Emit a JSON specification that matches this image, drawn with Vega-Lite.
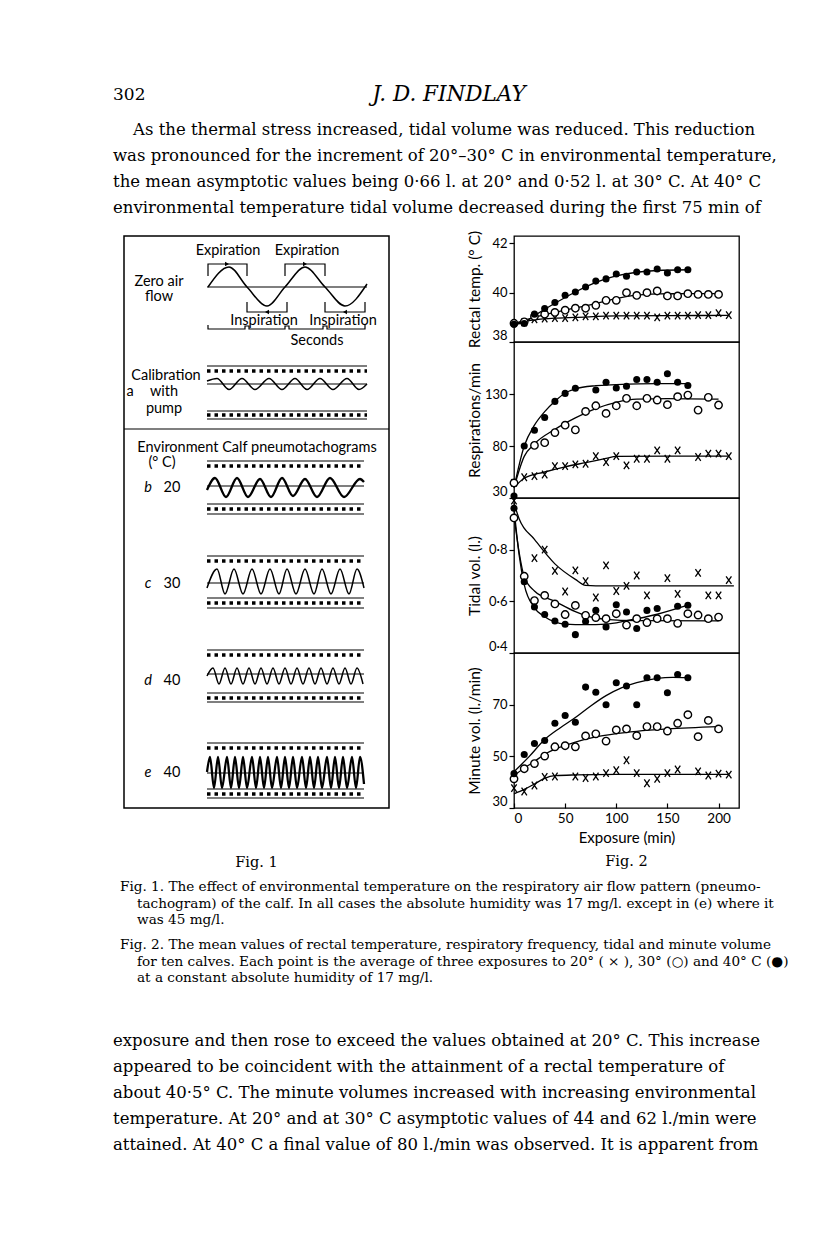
{
  "$schema": "https://vega.github.io/schema/vega-lite/v6.json",
  "background": "white",
  "padding": {"left": 113, "top": 80, "right": 0, "bottom": 0},
  "spacing": 0,
  "config": {
    "view": {"stroke": null},
    "axis": {
      "domain": false, "grid": false,
      "tickColor": "black", "tickWidth": 1.2, "tickSize": 5,
      "labelColor": "black", "labelFont": "Lato", "labelFontSize": 13, "labelPadding": 2,
      "titleColor": "black", "titleFont": "Lato", "titleFontSize": 15.5, "titleFontWeight": "normal"
    }
  },
  "datasets": {
    "para1": [
      {"line": 1, "text": "As the thermal stress increased, tidal volume was reduced. This reduction"},
      {"line": 2, "text": "was pronounced for the increment of 20°–30° C in environmental temperature,"},
      {"line": 3, "text": "the mean asymptotic values being 0·66 l. at 20° and 0·52 l. at 30° C.  At 40° C"},
      {"line": 4, "text": "environmental temperature tidal volume decreased during the first 75 min of"}
    ],
    "para2": [
      {"line": 1, "text": "exposure and then rose to exceed the values obtained at 20° C. This increase"},
      {"line": 2, "text": "appeared to be coincident with the attainment of a rectal temperature of"},
      {"line": 3, "text": "about 40·5° C. The minute volumes increased with increasing environmental"},
      {"line": 4, "text": "temperature.  At 20° and at 30° C asymptotic values of 44 and 62 l./min were"},
      {"line": 5, "text": "attained.  At 40° C a final value of 80 l./min was observed.  It is apparent from"}
    ],
    "cap1": [
      {"line": 1, "text": "Fig. 1. The effect of environmental temperature on the respiratory air flow pattern (pneumo-"},
      {"line": 2, "text": "tachogram) of the calf. In all cases the absolute humidity was 17 mg/l. except in (e) where it"},
      {"line": 3, "text": "was 45 mg/l."}
    ],
    "cap2": [
      {"line": 1, "text": "Fig. 2. The mean values of rectal temperature, respiratory frequency, tidal and minute volume"},
      {"line": 2, "text": "for ten calves. Each point is the average of three exposures to 20° ( × ), 30° (○) and 40° C (●)"},
      {"line": 3, "text": "at a constant absolute humidity of 17 mg/l."}
    ],
    "f1rule": [
      {"x": 0, "x2": 265, "y": 193},
      {"x": 83, "x2": 243, "y": 51},
      {"x": 83, "x2": 243, "y": 130}, {"x": 83, "x2": 243, "y": 148},
      {"x": 83, "x2": 243, "y": 175}, {"x": 83, "x2": 243, "y": 183},
      {"x": 83, "x2": 240, "y": 225}, {"x": 83, "x2": 240, "y": 250},
      {"x": 83, "x2": 240, "y": 268}, {"x": 83, "x2": 240, "y": 278},
      {"x": 83, "x2": 240, "y": 320}, {"x": 83, "x2": 240, "y": 347},
      {"x": 83, "x2": 240, "y": 362}, {"x": 83, "x2": 240, "y": 372},
      {"x": 83, "x2": 240, "y": 414}, {"x": 83, "x2": 240, "y": 438},
      {"x": 83, "x2": 240, "y": 457}, {"x": 83, "x2": 240, "y": 466},
      {"x": 83, "x2": 240, "y": 507}, {"x": 83, "x2": 240, "y": 537},
      {"x": 83, "x2": 240, "y": 553}, {"x": 83, "x2": 240, "y": 562}
    ],
    "f1dot": [
      {"x": 83, "x2": 243, "y": 135}, {"x": 83, "x2": 243, "y": 179},
      {"x": 83, "x2": 240, "y": 230}, {"x": 83, "x2": 240, "y": 273},
      {"x": 83, "x2": 240, "y": 325}, {"x": 83, "x2": 240, "y": 367},
      {"x": 83, "x2": 240, "y": 419}, {"x": 83, "x2": 240, "y": 462},
      {"x": 83, "x2": 240, "y": 512}, {"x": 83, "x2": 240, "y": 558}
    ],
    "f1path": [
      {"g": "exp1", "i": 1, "x": 84, "y": 40}, {"g": "exp1", "i": 2, "x": 84, "y": 28}, {"g": "exp1", "i": 3, "x": 123, "y": 28}, {"g": "exp1", "i": 4, "x": 123, "y": 40},
      {"g": "exp2", "i": 1, "x": 161, "y": 40}, {"g": "exp2", "i": 2, "x": 161, "y": 28}, {"g": "exp2", "i": 3, "x": 201, "y": 28}, {"g": "exp2", "i": 4, "x": 201, "y": 40},
      {"g": "ins1", "i": 1, "x": 123, "y": 66}, {"g": "ins1", "i": 2, "x": 123, "y": 76}, {"g": "ins1", "i": 3, "x": 163, "y": 76}, {"g": "ins1", "i": 4, "x": 163, "y": 66},
      {"g": "ins2", "i": 1, "x": 201, "y": 66}, {"g": "ins2", "i": 2, "x": 201, "y": 76}, {"g": "ins2", "i": 3, "x": 241, "y": 76}, {"g": "ins2", "i": 4, "x": 241, "y": 66},
      {"g": "sec", "i": 1, "x": 84, "y": 89}, {"g": "sec", "i": 2, "x": 84, "y": 93}, {"g": "sec", "i": 3, "x": 121, "y": 93}, {"g": "sec", "i": 4, "x": 121, "y": 90},
      {"g": "sec", "i": 5, "x": 125, "y": 90}, {"g": "sec", "i": 6, "x": 125, "y": 93}, {"g": "sec", "i": 7, "x": 161, "y": 93}, {"g": "sec", "i": 8, "x": 161, "y": 90},
      {"g": "sec", "i": 9, "x": 165, "y": 90}, {"g": "sec", "i": 10, "x": 165, "y": 93}, {"g": "sec", "i": 11, "x": 199, "y": 93}, {"g": "sec", "i": 12, "x": 199, "y": 90},
      {"g": "sec", "i": 13, "x": 203, "y": 90}, {"g": "sec", "i": 14, "x": 203, "y": 93}, {"g": "sec", "i": 15, "x": 241, "y": 93}, {"g": "sec", "i": 16, "x": 241, "y": 89}
    ],
    "f1arrow": [
      {"x": 103, "y": 28, "dir": "r"}, {"x": 181, "y": 28, "dir": "r"},
      {"x": 143, "y": 76, "dir": "l"}, {"x": 221, "y": 76, "dir": "l"}
    ],
    "f1wave": [
      {"g": "main", "x": 84, "y": 51}, {"g": "main", "x": 105, "y": 31}, {"g": "main", "x": 123, "y": 51}, {"g": "main", "x": 143, "y": 70}, {"g": "main", "x": 161, "y": 51}, {"g": "main", "x": 181, "y": 31}, {"g": "main", "x": 201, "y": 51}, {"g": "main", "x": 221, "y": 70}, {"g": "main", "x": 243, "y": 48},
      {"g": "cal", "x": 83, "y": 145}, {"g": "cal", "x": 93, "y": 142.5}, {"g": "cal", "x": 105, "y": 153.5}, {"g": "cal", "x": 118, "y": 142.5}, {"g": "cal", "x": 131, "y": 153.5}, {"g": "cal", "x": 145, "y": 142.5}, {"g": "cal", "x": 158, "y": 153.5}, {"g": "cal", "x": 171, "y": 142.5}, {"g": "cal", "x": 183, "y": 153.5}, {"g": "cal", "x": 196, "y": 142.5}, {"g": "cal", "x": 209, "y": 153.5}, {"g": "cal", "x": 223, "y": 142.5}, {"g": "cal", "x": 235, "y": 153.5}, {"g": "cal", "x": 243, "y": 148},
      {"g": "b", "x": 83, "y": 254}, {"g": "b", "x": 91, "y": 242}, {"g": "b", "x": 102, "y": 261}, {"g": "b", "x": 113, "y": 242}, {"g": "b", "x": 124, "y": 261}, {"g": "b", "x": 136, "y": 243}, {"g": "b", "x": 147, "y": 261}, {"g": "b", "x": 158, "y": 242}, {"g": "b", "x": 169, "y": 260}, {"g": "b", "x": 181, "y": 243}, {"g": "b", "x": 193, "y": 261}, {"g": "b", "x": 206, "y": 242}, {"g": "b", "x": 220, "y": 261}, {"g": "b", "x": 236, "y": 243}, {"g": "b", "x": 240, "y": 246},
      {"g": "c", "x": 83, "y": 352}, {"g": "c", "x": 93, "y": 333}, {"g": "c", "x": 101, "y": 358}, {"g": "c", "x": 110, "y": 333}, {"g": "c", "x": 119, "y": 358}, {"g": "c", "x": 128, "y": 333}, {"g": "c", "x": 137, "y": 358}, {"g": "c", "x": 146, "y": 333}, {"g": "c", "x": 155, "y": 358}, {"g": "c", "x": 163, "y": 333}, {"g": "c", "x": 172, "y": 358}, {"g": "c", "x": 181, "y": 333}, {"g": "c", "x": 190, "y": 358}, {"g": "c", "x": 198, "y": 333}, {"g": "c", "x": 207, "y": 358}, {"g": "c", "x": 216, "y": 333}, {"g": "c", "x": 225, "y": 358}, {"g": "c", "x": 233, "y": 333}, {"g": "c", "x": 240, "y": 352},
      {"g": "d", "x": 83, "y": 440}, {"g": "d", "x": 89, "y": 432}, {"g": "d", "x": 95, "y": 448}, {"g": "d", "x": 101, "y": 432}, {"g": "d", "x": 107, "y": 448}, {"g": "d", "x": 113, "y": 432}, {"g": "d", "x": 119, "y": 448}, {"g": "d", "x": 125, "y": 432}, {"g": "d", "x": 131, "y": 448}, {"g": "d", "x": 137, "y": 432}, {"g": "d", "x": 143, "y": 448}, {"g": "d", "x": 149, "y": 432}, {"g": "d", "x": 155, "y": 448}, {"g": "d", "x": 161, "y": 432}, {"g": "d", "x": 167, "y": 448}, {"g": "d", "x": 173, "y": 432}, {"g": "d", "x": 179, "y": 448}, {"g": "d", "x": 185, "y": 432}, {"g": "d", "x": 191, "y": 448}, {"g": "d", "x": 197, "y": 432}, {"g": "d", "x": 203, "y": 448}, {"g": "d", "x": 209, "y": 432}, {"g": "d", "x": 215, "y": 448}, {"g": "d", "x": 221, "y": 432}, {"g": "d", "x": 227, "y": 448}, {"g": "d", "x": 233, "y": 432}, {"g": "d", "x": 239, "y": 448},
      {"g": "e", "x": 83, "y": 536}, {"g": "e", "x": 86, "y": 521}, {"g": "e", "x": 90, "y": 552}, {"g": "e", "x": 94, "y": 521}, {"g": "e", "x": 98, "y": 552}, {"g": "e", "x": 103, "y": 521}, {"g": "e", "x": 107, "y": 552}, {"g": "e", "x": 111, "y": 521}, {"g": "e", "x": 115, "y": 552}, {"g": "e", "x": 119, "y": 521}, {"g": "e", "x": 123, "y": 552}, {"g": "e", "x": 128, "y": 521}, {"g": "e", "x": 132, "y": 552}, {"g": "e", "x": 136, "y": 521}, {"g": "e", "x": 140, "y": 552}, {"g": "e", "x": 144, "y": 521}, {"g": "e", "x": 148, "y": 552}, {"g": "e", "x": 153, "y": 521}, {"g": "e", "x": 157, "y": 552}, {"g": "e", "x": 161, "y": 521}, {"g": "e", "x": 165, "y": 552}, {"g": "e", "x": 169, "y": 521}, {"g": "e", "x": 173, "y": 552}, {"g": "e", "x": 178, "y": 521}, {"g": "e", "x": 182, "y": 552}, {"g": "e", "x": 186, "y": 521}, {"g": "e", "x": 190, "y": 552}, {"g": "e", "x": 194, "y": 521}, {"g": "e", "x": 198, "y": 552}, {"g": "e", "x": 203, "y": 521}, {"g": "e", "x": 207, "y": 552}, {"g": "e", "x": 211, "y": 521}, {"g": "e", "x": 215, "y": 552}, {"g": "e", "x": 219, "y": 521}, {"g": "e", "x": 223, "y": 552}, {"g": "e", "x": 228, "y": 521}, {"g": "e", "x": 232, "y": 552}, {"g": "e", "x": 236, "y": 521}, {"g": "e", "x": 240, "y": 548}
    ],
    "f1text": [
      {"x": 104, "y": 15, "text": "Expiration"}, {"x": 183, "y": 15, "text": "Expiration"},
      {"x": 35, "y": 46, "text": "Zero air"}, {"x": 35, "y": 61, "text": "flow"},
      {"x": 140, "y": 85, "text": "Inspiration"}, {"x": 219, "y": 85, "text": "Inspiration"},
      {"x": 193, "y": 105, "text": "Seconds"},
      {"x": 42, "y": 140, "text": "Calibration"},
      {"x": 6, "y": 156, "text": "a"}, {"x": 40, "y": 156, "text": "with"},
      {"x": 40, "y": 173, "text": "pump"},
      {"x": 133, "y": 212, "text": "Environment Calf pneumotachograms"},
      {"x": 38, "y": 227, "text": "(° C)"},
      {"x": 48, "y": 252, "text": "20"}, {"x": 48, "y": 348, "text": "30"},
      {"x": 48, "y": 445, "text": "40"}, {"x": 48, "y": 537, "text": "40"}
    ],
    "f1ital": [
      {"x": 24, "y": 252, "text": "b"}, {"x": 24, "y": 348, "text": "c"},
      {"x": 24, "y": 445, "text": "d"}, {"x": 24, "y": 537, "text": "e"}
    ],
    "pts": [
      {"p": "rt", "s": "40", "t": 0, "v": 38.72}, {"p": "rt", "s": "40", "t": 10, "v": 38.75}, {"p": "rt", "s": "40", "t": 20, "v": 39.13}, {"p": "rt", "s": "40", "t": 30, "v": 39.36}, {"p": "rt", "s": "40", "t": 40, "v": 39.6}, {"p": "rt", "s": "40", "t": 50, "v": 39.9}, {"p": "rt", "s": "40", "t": 60, "v": 40.03}, {"p": "rt", "s": "40", "t": 70, "v": 40.23}, {"p": "rt", "s": "40", "t": 80, "v": 40.47}, {"p": "rt", "s": "40", "t": 90, "v": 40.56}, {"p": "rt", "s": "40", "t": 100, "v": 40.76}, {"p": "rt", "s": "40", "t": 110, "v": 40.67}, {"p": "rt", "s": "40", "t": 120, "v": 40.84}, {"p": "rt", "s": "40", "t": 130, "v": 40.84}, {"p": "rt", "s": "40", "t": 140, "v": 40.96}, {"p": "rt", "s": "40", "t": 150, "v": 40.8}, {"p": "rt", "s": "40", "t": 160, "v": 40.93}, {"p": "rt", "s": "40", "t": 170, "v": 40.93},
      {"p": "rt", "s": "30", "t": 0, "v": 38.76}, {"p": "rt", "s": "30", "t": 10, "v": 38.82}, {"p": "rt", "s": "30", "t": 20, "v": 39.04}, {"p": "rt", "s": "30", "t": 30, "v": 39.13}, {"p": "rt", "s": "30", "t": 40, "v": 39.2}, {"p": "rt", "s": "30", "t": 50, "v": 39.29}, {"p": "rt", "s": "30", "t": 60, "v": 39.37}, {"p": "rt", "s": "30", "t": 70, "v": 39.37}, {"p": "rt", "s": "30", "t": 80, "v": 39.49}, {"p": "rt", "s": "30", "t": 90, "v": 39.69}, {"p": "rt", "s": "30", "t": 100, "v": 39.69}, {"p": "rt", "s": "30", "t": 110, "v": 40.0}, {"p": "rt", "s": "30", "t": 120, "v": 39.89}, {"p": "rt", "s": "30", "t": 130, "v": 40.0}, {"p": "rt", "s": "30", "t": 140, "v": 40.07}, {"p": "rt", "s": "30", "t": 150, "v": 39.87}, {"p": "rt", "s": "30", "t": 160, "v": 39.87}, {"p": "rt", "s": "30", "t": 170, "v": 39.96}, {"p": "rt", "s": "30", "t": 180, "v": 39.93}, {"p": "rt", "s": "30", "t": 190, "v": 39.93}, {"p": "rt", "s": "30", "t": 200, "v": 39.93},
      {"p": "rt", "s": "20", "t": 10, "v": 38.8}, {"p": "rt", "s": "20", "t": 20, "v": 38.92}, {"p": "rt", "s": "20", "t": 30, "v": 38.95}, {"p": "rt", "s": "20", "t": 40, "v": 38.97}, {"p": "rt", "s": "20", "t": 50, "v": 38.97}, {"p": "rt", "s": "20", "t": 60, "v": 39.0}, {"p": "rt", "s": "20", "t": 70, "v": 39.04}, {"p": "rt", "s": "20", "t": 80, "v": 39.04}, {"p": "rt", "s": "20", "t": 90, "v": 39.07}, {"p": "rt", "s": "20", "t": 100, "v": 39.07}, {"p": "rt", "s": "20", "t": 110, "v": 39.07}, {"p": "rt", "s": "20", "t": 120, "v": 39.07}, {"p": "rt", "s": "20", "t": 130, "v": 39.07}, {"p": "rt", "s": "20", "t": 140, "v": 39.0}, {"p": "rt", "s": "20", "t": 150, "v": 39.07}, {"p": "rt", "s": "20", "t": 160, "v": 39.07}, {"p": "rt", "s": "20", "t": 170, "v": 39.07}, {"p": "rt", "s": "20", "t": 180, "v": 39.09}, {"p": "rt", "s": "20", "t": 190, "v": 39.09}, {"p": "rt", "s": "20", "t": 200, "v": 39.17}, {"p": "rt", "s": "20", "t": 210, "v": 39.09},

      {"p": "rr", "s": "40", "t": 0, "v": 32}, {"p": "rr", "s": "40", "t": 10, "v": 80}, {"p": "rr", "s": "40", "t": 20, "v": 95.2}, {"p": "rr", "s": "40", "t": 30, "v": 107.4}, {"p": "rr", "s": "40", "t": 40, "v": 122.9}, {"p": "rr", "s": "40", "t": 50, "v": 130.6}, {"p": "rr", "s": "40", "t": 60, "v": 135.5}, {"p": "rr", "s": "40", "t": 80, "v": 133.9}, {"p": "rr", "s": "40", "t": 90, "v": 141.3}, {"p": "rr", "s": "40", "t": 100, "v": 135.8}, {"p": "rr", "s": "40", "t": 110, "v": 137.4}, {"p": "rr", "s": "40", "t": 120, "v": 143.9}, {"p": "rr", "s": "40", "t": 130, "v": 143.9}, {"p": "rr", "s": "40", "t": 140, "v": 141.3}, {"p": "rr", "s": "40", "t": 150, "v": 149.4}, {"p": "rr", "s": "40", "t": 160, "v": 141.3}, {"p": "rr", "s": "40", "t": 170, "v": 138.1},
      {"p": "rr", "s": "30", "t": 0, "v": 44.5}, {"p": "rr", "s": "30", "t": 20, "v": 80.6}, {"p": "rr", "s": "30", "t": 30, "v": 83.2}, {"p": "rr", "s": "30", "t": 40, "v": 92.9}, {"p": "rr", "s": "30", "t": 50, "v": 100}, {"p": "rr", "s": "30", "t": 60, "v": 95.5}, {"p": "rr", "s": "30", "t": 70, "v": 113.2}, {"p": "rr", "s": "30", "t": 80, "v": 118.7}, {"p": "rr", "s": "30", "t": 90, "v": 111.3}, {"p": "rr", "s": "30", "t": 100, "v": 118.7}, {"p": "rr", "s": "30", "t": 110, "v": 125.8}, {"p": "rr", "s": "30", "t": 120, "v": 118.7}, {"p": "rr", "s": "30", "t": 130, "v": 125.8}, {"p": "rr", "s": "30", "t": 140, "v": 124.2}, {"p": "rr", "s": "30", "t": 150, "v": 119.7}, {"p": "rr", "s": "30", "t": 160, "v": 127.4}, {"p": "rr", "s": "30", "t": 170, "v": 129}, {"p": "rr", "s": "30", "t": 180, "v": 114.5}, {"p": "rr", "s": "30", "t": 190, "v": 126.8}, {"p": "rr", "s": "30", "t": 200, "v": 119.4},
      {"p": "rr", "s": "20", "t": 0, "v": 44.5}, {"p": "rr", "s": "20", "t": 10, "v": 50}, {"p": "rr", "s": "20", "t": 20, "v": 51}, {"p": "rr", "s": "20", "t": 30, "v": 52.6}, {"p": "rr", "s": "20", "t": 40, "v": 60.6}, {"p": "rr", "s": "20", "t": 50, "v": 60.6}, {"p": "rr", "s": "20", "t": 60, "v": 62.3}, {"p": "rr", "s": "20", "t": 70, "v": 62.9}, {"p": "rr", "s": "20", "t": 80, "v": 70.3}, {"p": "rr", "s": "20", "t": 90, "v": 64.5}, {"p": "rr", "s": "20", "t": 100, "v": 70.3}, {"p": "rr", "s": "20", "t": 110, "v": 61.3}, {"p": "rr", "s": "20", "t": 120, "v": 67.7}, {"p": "rr", "s": "20", "t": 130, "v": 67.7}, {"p": "rr", "s": "20", "t": 140, "v": 75.8}, {"p": "rr", "s": "20", "t": 150, "v": 67.7}, {"p": "rr", "s": "20", "t": 160, "v": 75.8}, {"p": "rr", "s": "20", "t": 180, "v": 69.4}, {"p": "rr", "s": "20", "t": 190, "v": 72.6}, {"p": "rr", "s": "20", "t": 200, "v": 72.6}, {"p": "rr", "s": "20", "t": 210, "v": 70.3},

      {"p": "tv", "s": "20", "t": 0, "v": 0.99}, {"p": "tv", "s": "20", "t": 20, "v": 0.767}, {"p": "tv", "s": "20", "t": 30, "v": 0.8}, {"p": "tv", "s": "20", "t": 40, "v": 0.718}, {"p": "tv", "s": "20", "t": 50, "v": 0.638}, {"p": "tv", "s": "20", "t": 60, "v": 0.72}, {"p": "tv", "s": "20", "t": 70, "v": 0.678}, {"p": "tv", "s": "20", "t": 80, "v": 0.615}, {"p": "tv", "s": "20", "t": 90, "v": 0.739}, {"p": "tv", "s": "20", "t": 100, "v": 0.64}, {"p": "tv", "s": "20", "t": 110, "v": 0.66}, {"p": "tv", "s": "20", "t": 120, "v": 0.70}, {"p": "tv", "s": "20", "t": 130, "v": 0.623}, {"p": "tv", "s": "20", "t": 150, "v": 0.69}, {"p": "tv", "s": "20", "t": 160, "v": 0.629}, {"p": "tv", "s": "20", "t": 180, "v": 0.71}, {"p": "tv", "s": "20", "t": 190, "v": 0.623}, {"p": "tv", "s": "20", "t": 200, "v": 0.623}, {"p": "tv", "s": "20", "t": 210, "v": 0.682},
      {"p": "tv", "s": "30", "t": 0, "v": 0.923}, {"p": "tv", "s": "30", "t": 10, "v": 0.697}, {"p": "tv", "s": "30", "t": 20, "v": 0.603}, {"p": "tv", "s": "30", "t": 30, "v": 0.623}, {"p": "tv", "s": "30", "t": 40, "v": 0.59}, {"p": "tv", "s": "30", "t": 50, "v": 0.549}, {"p": "tv", "s": "30", "t": 60, "v": 0.584}, {"p": "tv", "s": "30", "t": 70, "v": 0.546}, {"p": "tv", "s": "30", "t": 80, "v": 0.537}, {"p": "tv", "s": "30", "t": 90, "v": 0.533}, {"p": "tv", "s": "30", "t": 100, "v": 0.552}, {"p": "tv", "s": "30", "t": 110, "v": 0.508}, {"p": "tv", "s": "30", "t": 120, "v": 0.533}, {"p": "tv", "s": "30", "t": 130, "v": 0.518}, {"p": "tv", "s": "30", "t": 140, "v": 0.533}, {"p": "tv", "s": "30", "t": 150, "v": 0.533}, {"p": "tv", "s": "30", "t": 160, "v": 0.515}, {"p": "tv", "s": "30", "t": 170, "v": 0.552}, {"p": "tv", "s": "30", "t": 180, "v": 0.547}, {"p": "tv", "s": "30", "t": 190, "v": 0.533}, {"p": "tv", "s": "30", "t": 200, "v": 0.539},
      {"p": "tv", "s": "40", "t": 0, "v": 0.96}, {"p": "tv", "s": "40", "t": 10, "v": 0.676}, {"p": "tv", "s": "40", "t": 20, "v": 0.578}, {"p": "tv", "s": "40", "t": 30, "v": 0.549}, {"p": "tv", "s": "40", "t": 40, "v": 0.524}, {"p": "tv", "s": "40", "t": 50, "v": 0.511}, {"p": "tv", "s": "40", "t": 60, "v": 0.471}, {"p": "tv", "s": "40", "t": 70, "v": 0.522}, {"p": "tv", "s": "40", "t": 80, "v": 0.565}, {"p": "tv", "s": "40", "t": 90, "v": 0.501}, {"p": "tv", "s": "40", "t": 100, "v": 0.587}, {"p": "tv", "s": "40", "t": 110, "v": 0.559}, {"p": "tv", "s": "40", "t": 120, "v": 0.495}, {"p": "tv", "s": "40", "t": 130, "v": 0.565}, {"p": "tv", "s": "40", "t": 140, "v": 0.572}, {"p": "tv", "s": "40", "t": 160, "v": 0.581}, {"p": "tv", "s": "40", "t": 170, "v": 0.585},

      {"p": "mv", "s": "40", "t": 0, "v": 43.3}, {"p": "mv", "s": "40", "t": 10, "v": 50.7}, {"p": "mv", "s": "40", "t": 20, "v": 55}, {"p": "mv", "s": "40", "t": 30, "v": 56.1}, {"p": "mv", "s": "40", "t": 40, "v": 62.8}, {"p": "mv", "s": "40", "t": 50, "v": 65.8}, {"p": "mv", "s": "40", "t": 60, "v": 63.2}, {"p": "mv", "s": "40", "t": 70, "v": 76.8}, {"p": "mv", "s": "40", "t": 80, "v": 74.8}, {"p": "mv", "s": "40", "t": 90, "v": 70}, {"p": "mv", "s": "40", "t": 100, "v": 78.5}, {"p": "mv", "s": "40", "t": 110, "v": 77.2}, {"p": "mv", "s": "40", "t": 120, "v": 70}, {"p": "mv", "s": "40", "t": 130, "v": 80.4}, {"p": "mv", "s": "40", "t": 140, "v": 80.4}, {"p": "mv", "s": "40", "t": 150, "v": 74.6}, {"p": "mv", "s": "40", "t": 160, "v": 81.7}, {"p": "mv", "s": "40", "t": 170, "v": 80.4},
      {"p": "mv", "s": "30", "t": 0, "v": 41.3}, {"p": "mv", "s": "30", "t": 10, "v": 45.2}, {"p": "mv", "s": "30", "t": 20, "v": 47.2}, {"p": "mv", "s": "30", "t": 30, "v": 50.1}, {"p": "mv", "s": "30", "t": 40, "v": 53.7}, {"p": "mv", "s": "30", "t": 50, "v": 54.1}, {"p": "mv", "s": "30", "t": 60, "v": 53.7}, {"p": "mv", "s": "30", "t": 70, "v": 57.9}, {"p": "mv", "s": "30", "t": 80, "v": 58.7}, {"p": "mv", "s": "30", "t": 90, "v": 55.9}, {"p": "mv", "s": "30", "t": 100, "v": 60.2}, {"p": "mv", "s": "30", "t": 110, "v": 60.6}, {"p": "mv", "s": "30", "t": 120, "v": 58.0}, {"p": "mv", "s": "30", "t": 130, "v": 61.5}, {"p": "mv", "s": "30", "t": 140, "v": 61.5}, {"p": "mv", "s": "30", "t": 150, "v": 59.8}, {"p": "mv", "s": "30", "t": 160, "v": 62.8}, {"p": "mv", "s": "30", "t": 170, "v": 66.1}, {"p": "mv", "s": "30", "t": 180, "v": 57.6}, {"p": "mv", "s": "30", "t": 190, "v": 63.9}, {"p": "mv", "s": "30", "t": 200, "v": 60.6},
      {"p": "mv", "s": "20", "t": 0, "v": 37.7}, {"p": "mv", "s": "20", "t": 10, "v": 36.4}, {"p": "mv", "s": "20", "t": 20, "v": 38.7}, {"p": "mv", "s": "20", "t": 30, "v": 42.0}, {"p": "mv", "s": "20", "t": 40, "v": 42.2}, {"p": "mv", "s": "20", "t": 60, "v": 42.2}, {"p": "mv", "s": "20", "t": 70, "v": 41.6}, {"p": "mv", "s": "20", "t": 80, "v": 42.2}, {"p": "mv", "s": "20", "t": 90, "v": 43.5}, {"p": "mv", "s": "20", "t": 100, "v": 44.6}, {"p": "mv", "s": "20", "t": 110, "v": 48.5}, {"p": "mv", "s": "20", "t": 120, "v": 43.5}, {"p": "mv", "s": "20", "t": 130, "v": 39.6}, {"p": "mv", "s": "20", "t": 140, "v": 41.3}, {"p": "mv", "s": "20", "t": 150, "v": 43.5}, {"p": "mv", "s": "20", "t": 160, "v": 44.9}, {"p": "mv", "s": "20", "t": 180, "v": 44.2}, {"p": "mv", "s": "20", "t": 190, "v": 42.6}, {"p": "mv", "s": "20", "t": 200, "v": 43.3}, {"p": "mv", "s": "20", "t": 210, "v": 42.9}
    ],
    "crv": [
      {"p": "rt", "s": "40", "t": 0, "v": 38.72}, {"p": "rt", "s": "40", "t": 10, "v": 38.8}, {"p": "rt", "s": "40", "t": 20, "v": 39.07}, {"p": "rt", "s": "40", "t": 40, "v": 39.57}, {"p": "rt", "s": "40", "t": 60, "v": 40.03}, {"p": "rt", "s": "40", "t": 80, "v": 40.42}, {"p": "rt", "s": "40", "t": 100, "v": 40.68}, {"p": "rt", "s": "40", "t": 120, "v": 40.83}, {"p": "rt", "s": "40", "t": 140, "v": 40.9}, {"p": "rt", "s": "40", "t": 170, "v": 40.93},
      {"p": "rt", "s": "30", "t": 0, "v": 38.75}, {"p": "rt", "s": "30", "t": 20, "v": 39.0}, {"p": "rt", "s": "30", "t": 40, "v": 39.2}, {"p": "rt", "s": "30", "t": 60, "v": 39.38}, {"p": "rt", "s": "30", "t": 80, "v": 39.56}, {"p": "rt", "s": "30", "t": 100, "v": 39.76}, {"p": "rt", "s": "30", "t": 120, "v": 39.9}, {"p": "rt", "s": "30", "t": 140, "v": 39.95}, {"p": "rt", "s": "30", "t": 170, "v": 39.96}, {"p": "rt", "s": "30", "t": 200, "v": 39.96},
      {"p": "rt", "s": "20", "t": 0, "v": 38.75}, {"p": "rt", "s": "20", "t": 20, "v": 38.9}, {"p": "rt", "s": "20", "t": 40, "v": 38.97}, {"p": "rt", "s": "20", "t": 60, "v": 39.0}, {"p": "rt", "s": "20", "t": 100, "v": 39.06}, {"p": "rt", "s": "20", "t": 150, "v": 39.07}, {"p": "rt", "s": "20", "t": 210, "v": 39.08},
      {"p": "rr", "s": "40", "t": 0, "v": 40}, {"p": "rr", "s": "40", "t": 10, "v": 80}, {"p": "rr", "s": "40", "t": 20, "v": 100}, {"p": "rr", "s": "40", "t": 30, "v": 113}, {"p": "rr", "s": "40", "t": 40, "v": 123}, {"p": "rr", "s": "40", "t": 50, "v": 131}, {"p": "rr", "s": "40", "t": 60, "v": 135}, {"p": "rr", "s": "40", "t": 80, "v": 138}, {"p": "rr", "s": "40", "t": 100, "v": 139}, {"p": "rr", "s": "40", "t": 140, "v": 140}, {"p": "rr", "s": "40", "t": 170, "v": 140},
      {"p": "rr", "s": "30", "t": 0, "v": 40}, {"p": "rr", "s": "30", "t": 10, "v": 70}, {"p": "rr", "s": "30", "t": 20, "v": 82}, {"p": "rr", "s": "30", "t": 40, "v": 96}, {"p": "rr", "s": "30", "t": 60, "v": 107}, {"p": "rr", "s": "30", "t": 80, "v": 116}, {"p": "rr", "s": "30", "t": 100, "v": 122}, {"p": "rr", "s": "30", "t": 120, "v": 125}, {"p": "rr", "s": "30", "t": 150, "v": 125.5}, {"p": "rr", "s": "30", "t": 200, "v": 125},
      {"p": "rr", "s": "20", "t": 0, "v": 40}, {"p": "rr", "s": "20", "t": 10, "v": 49}, {"p": "rr", "s": "20", "t": 30, "v": 55}, {"p": "rr", "s": "20", "t": 50, "v": 60}, {"p": "rr", "s": "20", "t": 70, "v": 64}, {"p": "rr", "s": "20", "t": 90, "v": 68}, {"p": "rr", "s": "20", "t": 100, "v": 70}, {"p": "rr", "s": "20", "t": 150, "v": 70.3}, {"p": "rr", "s": "20", "t": 210, "v": 70.3},
      {"p": "tv", "s": "20", "t": 0, "v": 0.98}, {"p": "tv", "s": "20", "t": 5, "v": 0.92}, {"p": "tv", "s": "20", "t": 20, "v": 0.84}, {"p": "tv", "s": "20", "t": 40, "v": 0.745}, {"p": "tv", "s": "20", "t": 60, "v": 0.685}, {"p": "tv", "s": "20", "t": 70, "v": 0.662}, {"p": "tv", "s": "20", "t": 90, "v": 0.66}, {"p": "tv", "s": "20", "t": 215, "v": 0.66},
      {"p": "tv", "s": "30", "t": 0, "v": 0.93}, {"p": "tv", "s": "30", "t": 5, "v": 0.79}, {"p": "tv", "s": "30", "t": 10, "v": 0.695}, {"p": "tv", "s": "30", "t": 20, "v": 0.64}, {"p": "tv", "s": "30", "t": 40, "v": 0.6}, {"p": "tv", "s": "30", "t": 60, "v": 0.56}, {"p": "tv", "s": "30", "t": 70, "v": 0.545}, {"p": "tv", "s": "30", "t": 90, "v": 0.53}, {"p": "tv", "s": "30", "t": 120, "v": 0.525}, {"p": "tv", "s": "30", "t": 200, "v": 0.524},
      {"p": "tv", "s": "40", "t": 0, "v": 0.96}, {"p": "tv", "s": "40", "t": 5, "v": 0.78}, {"p": "tv", "s": "40", "t": 10, "v": 0.665}, {"p": "tv", "s": "40", "t": 20, "v": 0.575}, {"p": "tv", "s": "40", "t": 30, "v": 0.54}, {"p": "tv", "s": "40", "t": 50, "v": 0.512}, {"p": "tv", "s": "40", "t": 70, "v": 0.51}, {"p": "tv", "s": "40", "t": 90, "v": 0.512}, {"p": "tv", "s": "40", "t": 110, "v": 0.525}, {"p": "tv", "s": "40", "t": 140, "v": 0.55}, {"p": "tv", "s": "40", "t": 170, "v": 0.585},
      {"p": "mv", "s": "40", "t": 0, "v": 44}, {"p": "mv", "s": "40", "t": 15, "v": 50}, {"p": "mv", "s": "40", "t": 30, "v": 56.5}, {"p": "mv", "s": "40", "t": 45, "v": 61}, {"p": "mv", "s": "40", "t": 60, "v": 65}, {"p": "mv", "s": "40", "t": 75, "v": 69.5}, {"p": "mv", "s": "40", "t": 90, "v": 73.5}, {"p": "mv", "s": "40", "t": 105, "v": 76.5}, {"p": "mv", "s": "40", "t": 120, "v": 78.5}, {"p": "mv", "s": "40", "t": 140, "v": 80.2}, {"p": "mv", "s": "40", "t": 155, "v": 80.6}, {"p": "mv", "s": "40", "t": 170, "v": 80.5},
      {"p": "mv", "s": "30", "t": 0, "v": 42.5}, {"p": "mv", "s": "30", "t": 10, "v": 45.5}, {"p": "mv", "s": "30", "t": 20, "v": 48}, {"p": "mv", "s": "30", "t": 30, "v": 50.8}, {"p": "mv", "s": "30", "t": 40, "v": 52.8}, {"p": "mv", "s": "30", "t": 60, "v": 55.5}, {"p": "mv", "s": "30", "t": 80, "v": 57.5}, {"p": "mv", "s": "30", "t": 100, "v": 58.8}, {"p": "mv", "s": "30", "t": 120, "v": 59.7}, {"p": "mv", "s": "30", "t": 150, "v": 60.6}, {"p": "mv", "s": "30", "t": 200, "v": 61.5},
      {"p": "mv", "s": "20", "t": 0, "v": 35.5}, {"p": "mv", "s": "20", "t": 10, "v": 37.2}, {"p": "mv", "s": "20", "t": 20, "v": 39.3}, {"p": "mv", "s": "20", "t": 30, "v": 41.5}, {"p": "mv", "s": "20", "t": 40, "v": 42.5}, {"p": "mv", "s": "20", "t": 60, "v": 42.8}, {"p": "mv", "s": "20", "t": 100, "v": 43}, {"p": "mv", "s": "20", "t": 150, "v": 43}, {"p": "mv", "s": "20", "t": 210, "v": 43}
    ]
  },
  "vconcat": [
    {
      "width": 672, "height": 30,
      "encoding": {"x": {"datum": 0, "type": "quantitative", "scale": {"domain": [0, 1]}, "axis": null}},
      "layer": [
        {"data": {"values": [{"text": "302"}]}, "mark": {"type": "text", "align": "left", "baseline": "middle", "font": "DejaVu Serif", "fontSize": 17, "color": "black"}, "encoding": {"text": {"field": "text"}}},
        {"data": {"values": [{"text": "J. D. FINDLAY"}]}, "mark": {"type": "text", "align": "center", "baseline": "middle", "font": "DejaVu Serif", "fontStyle": "italic", "fontSize": 21.5, "color": "black"}, "encoding": {"x": {"datum": 0.5, "type": "quantitative"}, "text": {"field": "text"}}}
      ]
    },
    {"width": 1, "height": 7, "data": {"values": []}, "mark": "text"},
    {
      "width": 680, "height": 104,
      "data": {"name": "para1"},
      "encoding": {
        "x": {"datum": 0, "type": "quantitative", "scale": {"domain": [0, 1]}, "axis": null},
        "y": {"field": "line", "type": "ordinal", "scale": {"type": "point", "padding": 0.5}, "axis": null},
        "text": {"field": "text"}
      },
      "layer": [
        {"transform": [{"filter": "datum.line == 1"}], "mark": {"type": "text", "align": "left", "baseline": "middle", "dx": 20, "font": "DejaVu Serif", "fontSize": 16.5, "color": "black"}},
        {"transform": [{"filter": "datum.line != 1"}], "mark": {"type": "text", "align": "left", "baseline": "middle", "font": "DejaVu Serif", "fontSize": 16.5, "color": "black"}}
      ]
    },
    {"width": 1, "height": 8, "data": {"values": []}, "mark": "text"},
    {
      "spacing": 0,
      "hconcat": [
        {"width": 9, "height": 572, "data": {"values": []}, "mark": "text"},
        {
          "width": 265, "height": 572,
          "view": {"stroke": "black", "strokeWidth": 1.5},
          "title": {"text": "Fig. 1", "orient": "bottom", "offset": 48, "anchor": "middle", "font": "DejaVu Serif", "fontSize": 14.5, "fontWeight": "normal", "color": "black"},
          "encoding": {
            "x": {"field": "x", "type": "quantitative", "scale": {"domain": [0, 265], "nice": false, "zero": false}, "axis": null},
            "y": {"field": "y", "type": "quantitative", "scale": {"domain": [0, 572], "nice": false, "zero": false, "reverse": true}, "axis": null}
          },
          "layer": [
            {"data": {"name": "f1rule"}, "mark": {"type": "rule", "color": "black", "strokeWidth": 1.1}, "encoding": {"x2": {"field": "x2"}}},
            {"data": {"name": "f1dot"}, "mark": {"type": "rule", "color": "black", "strokeWidth": 3.5, "strokeDash": [3.5, 4]}, "encoding": {"x2": {"field": "x2"}}},
            {"data": {"name": "f1path"}, "mark": {"type": "line", "color": "black", "strokeWidth": 1.2}, "encoding": {"detail": {"field": "g"}, "order": {"field": "i"}}},
            {"data": {"name": "f1wave"}, "transform": [{"filter": "datum.g != 'b' && datum.g != 'e'"}], "mark": {"type": "line", "interpolate": "monotone", "color": "black", "strokeWidth": 1.5}, "encoding": {"detail": {"field": "g"}}},
            {"data": {"name": "f1wave"}, "transform": [{"filter": "datum.g == 'b' || datum.g == 'e'"}], "mark": {"type": "line", "interpolate": "monotone", "color": "black", "strokeWidth": 2.3}, "encoding": {"detail": {"field": "g"}}},
            {"data": {"name": "f1arrow"}, "mark": {"type": "point", "filled": true, "color": "black", "size": 22, "opacity": 1}, "encoding": {"shape": {"field": "dir", "type": "nominal", "scale": {"domain": ["r", "l"], "range": ["triangle-right", "triangle-left"]}, "legend": null}}},
            {"data": {"name": "f1text"}, "mark": {"type": "text", "align": "center", "baseline": "middle", "font": "Lato", "fontSize": 14.5, "color": "black"}, "encoding": {"text": {"field": "text"}}},
            {"data": {"name": "f1ital"}, "mark": {"type": "text", "align": "center", "baseline": "middle", "font": "Lato", "fontStyle": "italic", "fontSize": 14.5, "color": "black"}, "encoding": {"text": {"field": "text"}}}
          ]
        },
        {"width": 75, "height": 572, "data": {"values": []}, "mark": "text"},
        {
          "spacing": 0,
          "bounds": "flush",
          "vconcat": [
            {
              "width": 225, "height": 106,
              "view": {"stroke": "black", "strokeWidth": 1.3},
              "encoding": {
                "x": {"field": "t", "type": "quantitative", "scale": {"domain": [0, 220], "nice": false}, "axis": null},
                "y": {"field": "v", "type": "quantitative", "scale": {"domain": [38, 42.3], "nice": false, "zero": false}, "axis": {"values": [38, 40, 42], "title": "Rectal temp. (° C)", "titleX": -32, "labelFlush": true}}
              },
              "layer": [
                {"data": {"name": "crv"}, "transform": [{"filter": "datum.p == 'rt'"}], "mark": {"type": "line", "interpolate": "monotone", "color": "black", "strokeWidth": 1.3}, "encoding": {"detail": {"field": "s"}}},
                {"data": {"name": "pts"}, "transform": [{"filter": "datum.p == 'rt' && datum.s == '20'"}], "mark": {"type": "point", "shape": "M-0.6,-0.85L0.6,0.85M0.6,-0.85L-0.6,0.85", "filled": false, "stroke": "black", "strokeWidth": 1.3, "size": 80, "opacity": 1}},
                {"data": {"name": "pts"}, "transform": [{"filter": "datum.p == 'rt' && datum.s == '30'"}], "mark": {"type": "point", "shape": "circle", "filled": true, "fill": "white", "stroke": "black", "strokeWidth": 1.4, "size": 55, "opacity": 1}},
                {"data": {"name": "pts"}, "transform": [{"filter": "datum.p == 'rt' && datum.s == '40'"}], "mark": {"type": "point", "shape": "circle", "filled": true, "color": "black", "size": 50, "opacity": 1}}
              ]
            },
            {
              "width": 225, "height": 156,
              "view": {"stroke": "black", "strokeWidth": 1.3},
              "encoding": {
                "x": {"field": "t", "type": "quantitative", "scale": {"domain": [0, 220], "nice": false}, "axis": null},
                "y": {"field": "v", "type": "quantitative", "scale": {"domain": [30, 180], "nice": false, "zero": false}, "axis": {"values": [30, 80, 130], "title": "Respirations/min", "titleX": -32, "labelFlush": true}}
              },
              "layer": [
                {"data": {"name": "crv"}, "transform": [{"filter": "datum.p == 'rr'"}], "mark": {"type": "line", "interpolate": "monotone", "color": "black", "strokeWidth": 1.3}, "encoding": {"detail": {"field": "s"}}},
                {"data": {"name": "pts"}, "transform": [{"filter": "datum.p == 'rr' && datum.s == '20'"}], "mark": {"type": "point", "shape": "M-0.6,-0.85L0.6,0.85M0.6,-0.85L-0.6,0.85", "filled": false, "stroke": "black", "strokeWidth": 1.3, "size": 80, "opacity": 1}},
                {"data": {"name": "pts"}, "transform": [{"filter": "datum.p == 'rr' && datum.s == '30'"}], "mark": {"type": "point", "shape": "circle", "filled": true, "fill": "white", "stroke": "black", "strokeWidth": 1.4, "size": 55, "opacity": 1}},
                {"data": {"name": "pts"}, "transform": [{"filter": "datum.p == 'rr' && datum.s == '40'"}], "mark": {"type": "point", "shape": "circle", "filled": true, "color": "black", "size": 50, "opacity": 1}}
              ]
            },
            {
              "width": 225, "height": 155,
              "view": {"stroke": "black", "strokeWidth": 1.3},
              "encoding": {
                "x": {"field": "t", "type": "quantitative", "scale": {"domain": [0, 220], "nice": false}, "axis": null},
                "y": {"field": "v", "type": "quantitative", "scale": {"domain": [0.4, 1.0], "nice": false, "zero": false}, "axis": {"values": [0.4, 0.6, 0.8], "title": "Tidal vol. (l.)", "titleX": -32, "labelFlush": true, "labelExpr": "replace(format(datum.value, '.1f'), '.', '·')"}}
              },
              "layer": [
                {"data": {"name": "crv"}, "transform": [{"filter": "datum.p == 'tv'"}], "mark": {"type": "line", "interpolate": "monotone", "color": "black", "strokeWidth": 1.3}, "encoding": {"detail": {"field": "s"}}},
                {"data": {"name": "pts"}, "transform": [{"filter": "datum.p == 'tv' && datum.s == '20'"}], "mark": {"type": "point", "shape": "M-0.6,-0.85L0.6,0.85M0.6,-0.85L-0.6,0.85", "filled": false, "stroke": "black", "strokeWidth": 1.3, "size": 80, "opacity": 1}},
                {"data": {"name": "pts"}, "transform": [{"filter": "datum.p == 'tv' && datum.s == '30'"}], "mark": {"type": "point", "shape": "circle", "filled": true, "fill": "white", "stroke": "black", "strokeWidth": 1.4, "size": 55, "opacity": 1}},
                {"data": {"name": "pts"}, "transform": [{"filter": "datum.p == 'tv' && datum.s == '40'"}], "mark": {"type": "point", "shape": "circle", "filled": true, "color": "black", "size": 50, "opacity": 1}}
              ]
            },
            {
              "width": 225, "height": 155,
              "view": {"stroke": "black", "strokeWidth": 1.3},
              "title": {"text": "Fig. 2", "orient": "bottom", "offset": 9, "anchor": "middle", "font": "DejaVu Serif", "fontSize": 14.5, "fontWeight": "normal", "color": "black"},
              "encoding": {
                "x": {"field": "t", "type": "quantitative", "scale": {"domain": [0, 220], "nice": false}, "axis": {"values": [0, 50, 100, 150, 200], "title": "Exposure (min)", "tickSize": -5, "labelPadding": 8, "labelFontSize": 13.5, "titleFontSize": 15, "titlePadding": 6}},
                "y": {"field": "v", "type": "quantitative", "scale": {"domain": [30, 90], "nice": false, "zero": false}, "axis": {"values": [30, 50, 70], "title": "Minute vol. (l./min)", "titleX": -32, "labelFlush": true}}
              },
              "layer": [
                {"data": {"name": "crv"}, "transform": [{"filter": "datum.p == 'mv'"}], "mark": {"type": "line", "interpolate": "monotone", "color": "black", "strokeWidth": 1.3}, "encoding": {"detail": {"field": "s"}}},
                {"data": {"name": "pts"}, "transform": [{"filter": "datum.p == 'mv' && datum.s == '20'"}], "mark": {"type": "point", "shape": "M-0.6,-0.85L0.6,0.85M0.6,-0.85L-0.6,0.85", "filled": false, "stroke": "black", "strokeWidth": 1.3, "size": 80, "opacity": 1}},
                {"data": {"name": "pts"}, "transform": [{"filter": "datum.p == 'mv' && datum.s == '30'"}], "mark": {"type": "point", "shape": "circle", "filled": true, "fill": "white", "stroke": "black", "strokeWidth": 1.4, "size": 55, "opacity": 1}},
                {"data": {"name": "pts"}, "transform": [{"filter": "datum.p == 'mv' && datum.s == '40'"}], "mark": {"type": "point", "shape": "circle", "filled": true, "color": "black", "size": 50, "opacity": 1}}
              ]
            }
          ]
        }
      ]
    },
    {"width": 1, "height": 8, "data": {"values": []}, "mark": "text"},
    {
      "width": 660, "height": 49.5,
      "data": {"name": "cap1"},
      "encoding": {
        "x": {"datum": 0, "type": "quantitative", "scale": {"domain": [0, 1]}, "axis": null},
        "y": {"field": "line", "type": "ordinal", "scale": {"type": "point", "padding": 0.5}, "axis": null},
        "text": {"field": "text"}
      },
      "layer": [
        {"transform": [{"filter": "datum.line == 1"}], "mark": {"type": "text", "align": "left", "baseline": "middle", "dx": 7, "font": "DejaVu Serif", "fontSize": 13.6, "color": "black"}},
        {"transform": [{"filter": "datum.line != 1"}], "mark": {"type": "text", "align": "left", "baseline": "middle", "dx": 24, "font": "DejaVu Serif", "fontSize": 13.6, "color": "black"}}
      ]
    },
    {"width": 1, "height": 8, "data": {"values": []}, "mark": "text"},
    {
      "width": 660, "height": 49.5,
      "data": {"name": "cap2"},
      "encoding": {
        "x": {"datum": 0, "type": "quantitative", "scale": {"domain": [0, 1]}, "axis": null},
        "y": {"field": "line", "type": "ordinal", "scale": {"type": "point", "padding": 0.5}, "axis": null},
        "text": {"field": "text"}
      },
      "layer": [
        {"transform": [{"filter": "datum.line == 1"}], "mark": {"type": "text", "align": "left", "baseline": "middle", "dx": 7, "font": "DejaVu Serif", "fontSize": 13.6, "color": "black"}},
        {"transform": [{"filter": "datum.line != 1"}], "mark": {"type": "text", "align": "left", "baseline": "middle", "dx": 24, "font": "DejaVu Serif", "fontSize": 13.6, "color": "black"}}
      ]
    },
    {"width": 1, "height": 40.5, "data": {"values": []}, "mark": "text"},
    {
      "width": 680, "height": 130,
      "data": {"name": "para2"},
      "mark": {"type": "text", "align": "left", "baseline": "middle", "font": "DejaVu Serif", "fontSize": 16.5, "color": "black"},
      "encoding": {
        "x": {"datum": 0, "type": "quantitative", "scale": {"domain": [0, 1]}, "axis": null},
        "y": {"field": "line", "type": "ordinal", "scale": {"type": "point", "padding": 0.5}, "axis": null},
        "text": {"field": "text"}
      }
    }
  ]
}
